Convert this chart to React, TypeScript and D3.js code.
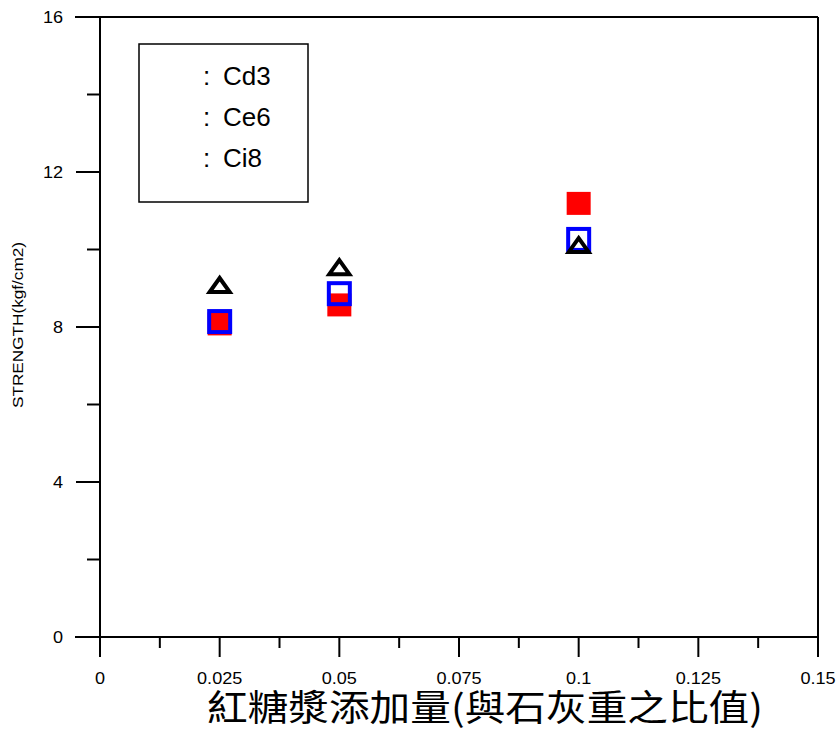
import React from "react";
import * as d3 from "d3";

// Sugar-syrup dosage (ratio to lime weight) and strength per mix
const dosage = [0.025, 0.05, 0.1];
const seriesNames = ["Cd3", "Ce6", "Ci8"];
const cd3Values = [8.08, 8.57, 11.19];
const ce6Values = [8.14, 8.86, 10.26];
const ci8Values = [9.11, 9.57, 10.14];

const xMajorTicks = [0, 0.025, 0.05, 0.075, 0.1, 0.125, 0.15];
const xTickLabels = ["0", "0.025", "0.05", "0.075", "0.1", "0.125", "0.15"];
const yMajorTicks = [0, 4, 8, 12, 16];
const yTickLabels = ["0", "4", "8", "12", "16"];

const yTitle = "STRENGTH(kgf/cm2)";
const xTitle = "紅糖漿添加量(與石灰重之比值)";

const W = 840;
const H = 731;
const left = 100;
const right = 818;
const top = 17;
const bottom = 637;

const latin = "'Liberation Sans', Arial, sans-serif";

export default function App() {
  const x = d3.scaleLinear().domain([0, 0.15]).range([left, right]);
  const y = d3.scaleLinear().domain([0, 16]).range([bottom, top]);

  const xMinor = d3.range(0.0125, 0.15, 0.025);
  const yMinor = [2, 6, 10, 14];

  const tri = d3.line()([[-10, 7], [0, -7], [10, 7]]) + "Z";

  return (
    <svg
      width={W}
      height={H}
      style={{ position: "absolute", left: 0, top: 0, background: "#fff" }}
    >
      <rect x={0} y={0} width={W} height={H} fill="#fff" />

      {/* frame */}
      <g stroke="#000" strokeWidth={2} fill="none">
        <line x1={left} y1={top} x2={left} y2={bottom} />
        <line x1={left - 25} y1={bottom} x2={right} y2={bottom} />
        <line x1={left - 25} y1={top} x2={right} y2={top} />
        <line x1={right} y1={top} x2={right} y2={bottom} />
        {yMajorTicks.map((t) => (
          <line key={"ym" + t} x1={left - 24} x2={left} y1={y(t)} y2={y(t)} />
        ))}
        {yMinor.map((t) => (
          <line key={"yn" + t} x1={left - 13} x2={left} y1={y(t)} y2={y(t)} />
        ))}
        {xMajorTicks.map((t) => (
          <line key={"xm" + t} x1={x(t)} x2={x(t)} y1={bottom} y2={bottom + 20} />
        ))}
        {xMinor.map((t) => (
          <line key={"xn" + t} x1={x(t)} x2={x(t)} y1={bottom} y2={bottom + 11} />
        ))}
      </g>

      {/* tick labels */}
      <g fontFamily={latin} fontSize={16} fill="#000">
        {yMajorTicks.map((t, i) => (
          <g key={"yl" + t} transform={`translate(63,${y(t) + 6}) scale(1.13,1)`}>
            <text textAnchor="end">{yTickLabels[i]}</text>
          </g>
        ))}
        {xMajorTicks.map((t, i) => (
          <g key={"xl" + t} transform={`translate(${x(t)},684) scale(1.13,1)`}>
            <text textAnchor="middle">{xTickLabels[i]}</text>
          </g>
        ))}
      </g>

      {/* axis titles */}
      <text
        transform={`translate(23,325) rotate(-90)`}
        textAnchor="middle"
        fontFamily={latin}
        fontSize={14}
        textLength={166}
        lengthAdjust="spacingAndGlyphs"
        fill="#000"
      >
        {yTitle}
      </text>
      <text
        x={485}
        y={721}
        textAnchor="middle"
        fontFamily="'Noto Sans CJK TC', 'Noto Sans CJK SC', sans-serif"
        fontSize={36}
        textLength={556}
        lengthAdjust="spacingAndGlyphs"
        fill="#000"
      >
        {xTitle}
      </text>

      {/* legend */}
      <rect x={139} y={44} width={169} height={158} fill="#fff" stroke="#000" strokeWidth={1.5} />
      <g fontFamily={latin} fontSize={26} fill="#000">
        {seriesNames.map((n, i) => (
          <g key={n}>
            <text x={203} y={85 + i * 41}>:</text>
            <text x={223} y={85 + i * 41}>{n}</text>
          </g>
        ))}
      </g>

      {/* Cd3: filled red squares */}
      {dosage.map((d, i) => (
        <rect
          key={"cd3" + i}
          x={x(d) - 12}
          y={y(cd3Values[i]) - 11.5}
          width={24}
          height={23}
          fill="#ff0000"
        />
      ))}
      {/* Ce6: open blue squares */}
      {dosage.map((d, i) => (
        <rect
          key={"ce6" + i}
          x={x(d) - 10.5}
          y={y(ce6Values[i]) - 10.5}
          width={21}
          height={21}
          fill="none"
          stroke="#0000ff"
          strokeWidth={4}
        />
      ))}
      {/* Ci8: open black triangles */}
      {dosage.map((d, i) => (
        <path
          key={"ci8" + i}
          d={tri}
          transform={`translate(${x(d)},${y(ci8Values[i]) + 1})`}
          fill="none"
          stroke="#000"
          strokeWidth={4}
          strokeLinejoin="miter"
        />
      ))}
    </svg>
  );
}
